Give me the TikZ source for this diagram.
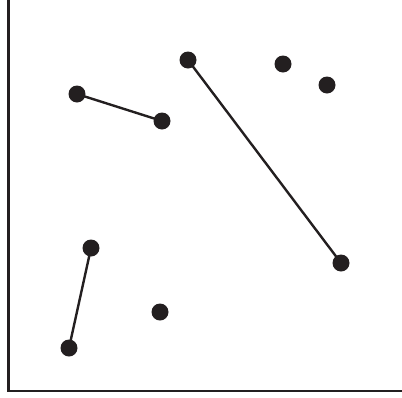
\documentclass[tikz,border=0pt]{standalone}
\usepackage{xcolor}
\usepackage{tikz}
\usetikzlibrary{arrows.meta,positioning}
\definecolor{inkdark}{RGB}{35,31,32}

\begin{document}
\begin{tikzpicture}[
x=1pt,y=-1pt,
dot/.style={circle,fill=inkdark,inner sep=0pt,minimum size=17pt},
link/.style={draw=inkdark,line width=2.4pt},
axis/.style={draw=inkdark,line width=2.8pt}
]
\useasboundingbox (0,0) rectangle (402,397);
\coordinate (top) at (8.5,0);
\coordinate (origin) at (8.5,391);
\coordinate (right) at (402,391);
\draw[axis] (top)--(origin)--(right);
\node[dot] (p1) at (77,94) {};
\node[dot] (p2) at (162,121) {};
\node[dot] (p3) at (188,60) {};
\node[dot] (p4) at (283,64) {};
\node[dot] (p5) at (327,85) {};
\node[dot] (p6) at (91,248) {};
\node[dot] (p7) at (341,263) {};
\node[dot] (p8) at (160,312) {};
\node[dot] (p9) at (69,348) {};
\draw[link] (p1.center)--(p2.center);
\draw[link] (p3.center)--(p7.center);
\draw[link] (p6.center)--(p9.center);
\end{tikzpicture}
\end{document}
